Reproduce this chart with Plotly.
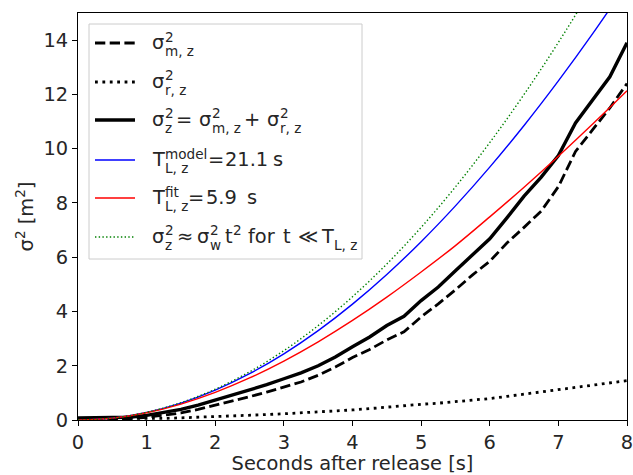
import plotly.graph_objects as go

# ---------------- data ----------------
t_data = [0, 0.25, 0.5, 0.75, 1, 1.25, 1.5, 1.75, 2, 2.25, 2.5, 2.75, 3, 3.25, 3.5, 3.75,
          4, 4.25, 4.5, 4.75, 5, 5.25, 5.5, 5.75, 6, 6.25, 6.5, 6.75, 7, 7.25, 7.5, 7.75, 8]
sigma_m = [0.03, 0.03, 0.03, 0.05, 0.10, 0.17, 0.26, 0.39, 0.54, 0.70, 0.86, 1.03, 1.22, 1.40,
           1.65, 1.95, 2.30, 2.60, 2.95, 3.25, 3.80, 4.28, 4.80, 5.35, 5.85, 6.52, 7.10, 7.70,
           8.60, 9.90, 10.70, 11.50, 12.40]
sigma_r = [0.05, 0.05, 0.04, 0.04, 0.05, 0.06, 0.08, 0.10, 0.12, 0.14, 0.17, 0.20, 0.23, 0.26,
           0.30, 0.33, 0.37, 0.42, 0.48, 0.53, 0.58, 0.62, 0.67, 0.73, 0.79, 0.87, 0.95, 1.03,
           1.12, 1.20, 1.28, 1.37, 1.45]
sigma_tot = [0.08, 0.08, 0.08, 0.10, 0.17, 0.27, 0.39, 0.55, 0.73, 0.92, 1.10, 1.30, 1.52, 1.74,
             2.00, 2.32, 2.70, 3.06, 3.48, 3.82, 4.40, 4.90, 5.50, 6.10, 6.68, 7.45, 8.25, 8.95,
             9.75, 10.95, 11.80, 12.65, 13.90]

t_model = [0, 0.5, 1, 1.5, 2, 2.5, 3, 3.5, 4, 4.5, 5, 5.5, 6, 6.5, 7, 7.5, 8]
model_blue = [0, 0.070, 0.280, 0.624, 1.101, 1.707, 2.439, 3.295, 4.271, 5.364, 6.571,
              7.891, 9.320, 10.855, 12.497, 14.239, 16.08]
fit_red = [0, 0.069, 0.269, 0.588, 1.018, 1.549, 2.173, 2.882, 3.670, 4.530, 5.456,
           6.428, 7.487, 8.581, 9.723, 10.908, 12.133]
short_green = [0, 0.071, 0.284, 0.639, 1.136, 1.775, 2.556, 3.479, 4.544, 5.751, 7.100,
               8.591, 10.224, 12.000, 13.916, 15.975, 18.176]

x_ticks = [0, 1, 2, 3, 4, 5, 6, 7, 8]
y_ticks = [0, 2, 4, 6, 8, 10, 12, 14]

# ---------------- styles ----------------
FONT = "DejaVu Sans, sans-serif"
FS = 19.4           # main font size (14 pt)
FSS = FS * 0.7      # script size
TXT = "#262626"

styles = [
    dict(color="black", width=2.8, dash="10.3px,4.4px"),   # sigma_m dashed
    dict(color="black", width=2.8, dash="2.8px,4.6px"),    # sigma_r dotted
    dict(color="black", width=3.4),                        # total
    dict(color="#0000ff", width=1.4),                      # model
    dict(color="#ff0000", width=1.4),                      # fit
    dict(color="#008000", width=1.4, dash="1.4px,2.3px"),  # short-time
]

fig = go.Figure()
fig.add_trace(go.Scatter(x=t_data, y=sigma_m, mode="lines", line=styles[0]))
fig.add_trace(go.Scatter(x=t_data, y=sigma_r, mode="lines", line=styles[1]))
fig.add_trace(go.Scatter(x=t_data, y=sigma_tot, mode="lines", line=styles[2]))
fig.add_trace(go.Scatter(x=t_model, y=model_blue, mode="lines", line=dict(styles[3], shape="spline")))
fig.add_trace(go.Scatter(x=t_model, y=fit_red, mode="lines", line=dict(styles[4], shape="spline")))
fig.add_trace(go.Scatter(x=t_model, y=short_green, mode="lines", line=dict(styles[5], shape="spline")))

# ---------------- manual legend (matplotlib-like stacked scripts) ----------------
PX0, PX1, PY0, PY1 = 78.0, 627.0, 13.0, 420.0   # plot area in pixels


def px2x(px):
    return (px - PX0) / (PX1 - PX0)


def px2y(py):
    return (PY1 - py) / (PY1 - PY0)


shapes = []
annotations = []

# legend frame
shapes.append(dict(type="rect", xref="paper", yref="paper",
                   x0=px2x(89), x1=px2x(362), y0=px2y(259), y1=px2y(24),
                   line=dict(color="#cccccc", width=1), fillcolor="rgba(255,255,255,0.85)",
                   layer="above"))


def piece(px, py, text, size):
    annotations.append(dict(xref="paper", yref="paper", x=px2x(px - 2), y=px2y(py),
                            xanchor="left", yanchor="middle", text=text, showarrow=False,
                            font=dict(family=FONT, size=size, color=TXT), borderpad=0))


def scripted(px, y, sup, sub):
    if sup:
        piece(px, y - 6.5, sup, FSS)
    if sub:
        piece(px, y + 8, sub, FSS)


entry_y = [43, 82, 120, 160, 198, 237]
for st, y in zip(styles, entry_y):
    shapes.append(dict(type="line", xref="paper", yref="paper",
                       x0=px2x(95), x1=px2x(135), y0=px2y(y), y1=px2y(y),
                       line=st, layer="above"))

m = -0.5
# 1: sigma^2_{m,z}
y = entry_y[0]
piece(153, y + m, "σ", FS); scripted(166, y, "2", "m, z")
# 2: sigma^2_{r,z}
y = entry_y[1]
piece(153, y + m, "σ", FS); scripted(166, y, "2", "r, z")
# 3: total
y = entry_y[2]
piece(153, y + m, "σ", FS); scripted(166, y, "2", "z")
piece(177, y + m, "=", FS)
piece(200, y + m, "σ", FS); scripted(213, y, "2", "m, z")
piece(245, y + m, "+", FS)
piece(268, y + m, "σ", FS); scripted(281, y, "2", "r, z")
# 4: model
y = entry_y[3]
piece(153, y + m, "T", FS); scripted(166, y, "model", "L, z")
piece(209, y + m, "=", FS); piece(226, y + m, "21.1", FS); piece(274, y + m, "s", FS)
# 5: fit
y = entry_y[4]
piece(153, y + m, "T", FS); scripted(166, y, "fit", "L, z")
piece(189, y + m, "=", FS); piece(207, y + m, "5.9", FS); piece(248, y + m, "s", FS)
# 6: short-time limit
y = entry_y[5]
piece(153, y + m, "σ", FS); scripted(166, y, "2", "z")
piece(178, y + m, "≈", FS)
piece(198, y + m, "σ", FS); scripted(211, y, "2", "w")
piece(226, y + m, "t", FS); scripted(234, y, "2", None)
piece(249, y + m, "for", FS)
piece(284, y + m, "t", FS)
piece(299, y + m, "≪", FS)
piece(322, y + m, "T", FS); scripted(335, y, None, "L, z")

fig.update_layout(
    width=633, height=475,
    margin=dict(l=78, r=6, t=13, b=55, autoexpand=False),
    paper_bgcolor="white", plot_bgcolor="white",
    font=dict(family=FONT, size=FS, color=TXT),
    showlegend=False,
    shapes=shapes,
    annotations=annotations,
    xaxis=dict(range=[0, 8], tickvals=x_ticks, automargin=False, ticklabeloverflow="allow",
               showline=True, linecolor="black", linewidth=1, mirror=True,
               ticks="outside", ticklen=5, tickcolor="black", showgrid=False, zeroline=False,
               tickfont=dict(family=FONT, size=FS, color=TXT),
               title=dict(text="Seconds after release [s]", standoff=4,
                          font=dict(family=FONT, size=FS, color=TXT))),
    yaxis=dict(range=[0, 15], tickvals=y_ticks, automargin=False,
               showline=True, linecolor="black", linewidth=1, mirror=True,
               ticks="outside", ticklen=5, tickcolor="black", showgrid=False, zeroline=False,
               tickfont=dict(family=FONT, size=FS, color=TXT),
               title=dict(text="σ<sup>2</sup> [m<sup>2</sup>]", standoff=4,
                          font=dict(family=FONT, size=FS, color=TXT))),
)

fig.write_html("out.html")
